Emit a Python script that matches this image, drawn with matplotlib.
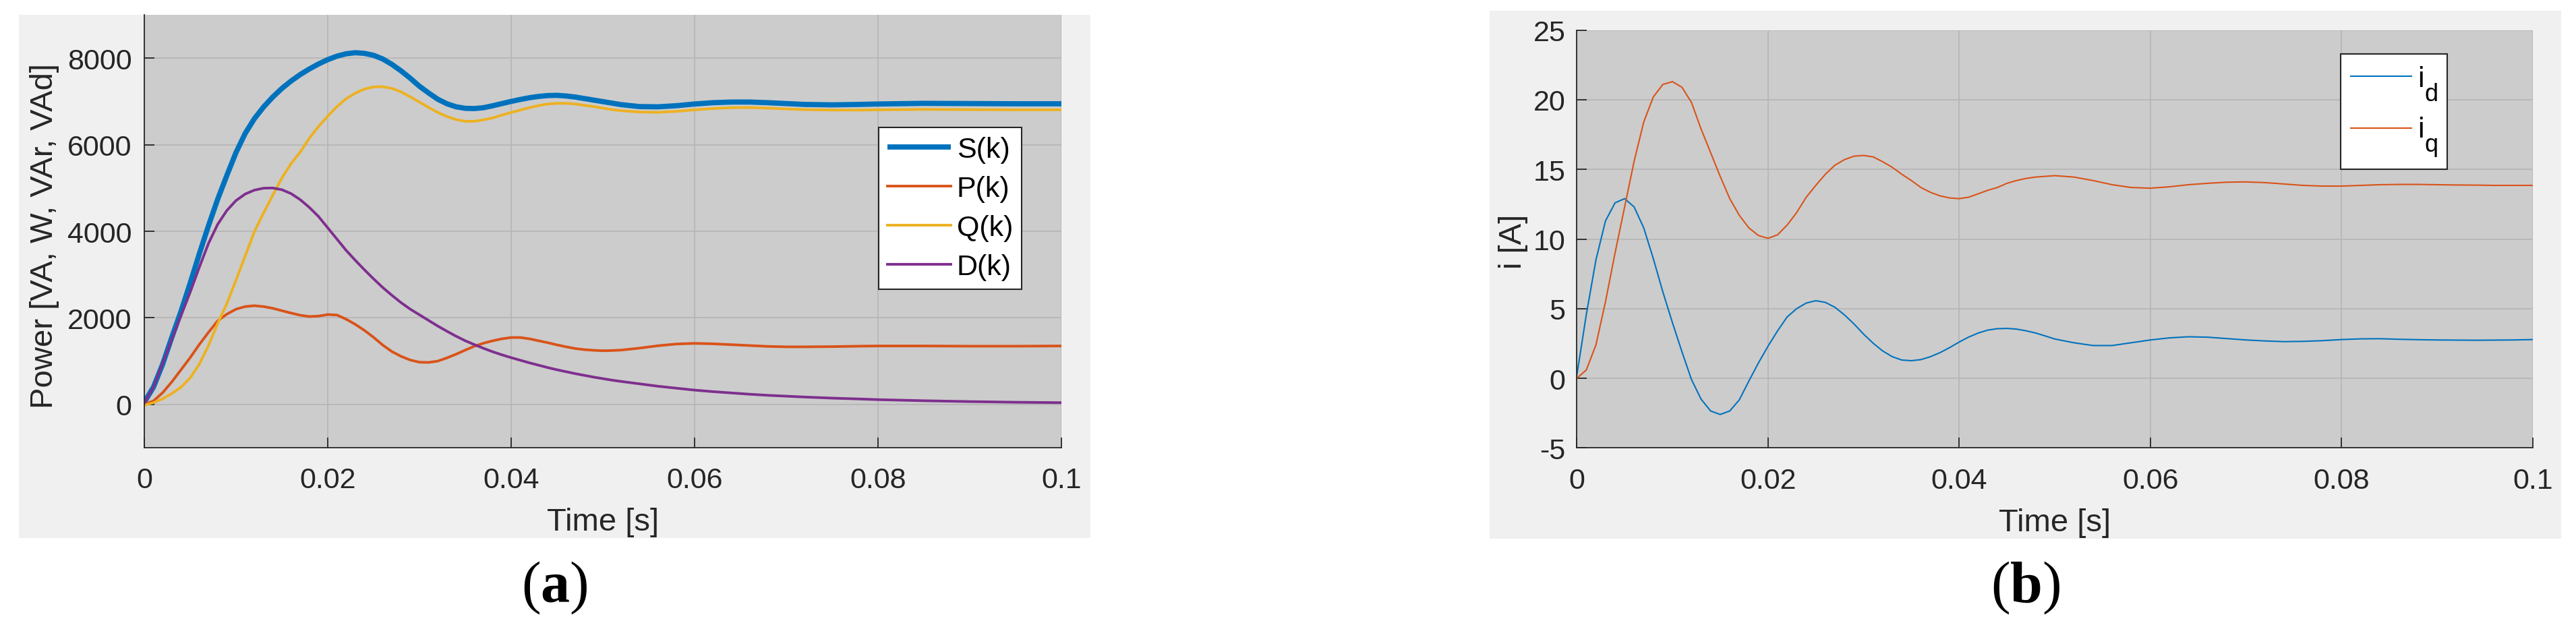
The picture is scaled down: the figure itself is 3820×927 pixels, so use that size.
import matplotlib
matplotlib.use("Agg")
import matplotlib.pyplot as plt
from matplotlib.patches import Rectangle

# MATLAB-like large, low subscripts for the i_d / i_q legend labels
try:
    import matplotlib._mathtext as _mt
    _mt.SHRINK_FACTOR = 0.84
    _mt.FontConstantsBase.sub1 = 0.95
except Exception:
    pass

plt.rcParams['font.family'] = ['Liberation Sans', 'DejaVu Sans']
plt.rcParams['axes.unicode_minus'] = False
plt.rcParams['mathtext.fontset'] = 'custom'
plt.rcParams['mathtext.rm'] = 'Liberation Serif'
plt.rcParams['mathtext.bf'] = 'Liberation Serif:bold'

# ---------------- data: panel (a) ----------------
t_a_ms = [0, 1, 2, 3, 4, 5, 6, 7, 8, 9, 10, 11, 12, 13, 14, 15, 16, 17, 18, 19,
          20, 21, 22, 23, 24, 25, 26, 27, 28, 29, 30, 31, 32, 33, 34, 35, 36, 37, 38, 39,
          40, 41, 42, 43, 44, 45, 46, 47, 48, 49, 50, 51,
          52, 54, 56, 58, 60, 62, 64, 66, 68, 70, 72, 75, 78, 80, 85, 90, 95, 100]
S_k = [50, 400, 930, 1550, 2150, 2800, 3480, 4130, 4740, 5290, 5820, 6260, 6600, 6870, 7100, 7300, 7470, 7620, 7750, 7865,
       7965, 8045, 8100, 8125, 8110, 8065, 7980, 7855, 7705, 7535, 7350, 7195, 7050, 6945, 6875, 6840, 6835, 6855, 6900, 6950,
       7000, 7045, 7085, 7115, 7135, 7140, 7125, 7100, 7065, 7030, 6995, 6960,
       6925, 6880, 6875, 6900, 6940, 6970, 6985, 6985, 6970, 6950, 6930, 6920, 6930, 6940, 6955, 6950, 6945, 6945]
P_k = [0, 80, 270, 520, 800, 1080, 1385, 1665, 1930, 2085, 2200, 2260, 2280, 2260, 2220, 2165, 2110, 2060, 2030, 2040,
       2075, 2065, 1970, 1850, 1710, 1550, 1370, 1220, 1110, 1025, 975, 970, 1000, 1075, 1160, 1255, 1345, 1415, 1470, 1515,
       1545, 1545, 1515, 1470, 1425, 1375, 1330, 1290, 1265, 1250, 1240, 1245,
       1255, 1300, 1355, 1395, 1410, 1400, 1380, 1360, 1340, 1330, 1330, 1335, 1345, 1350, 1350, 1345, 1345, 1350]
Q_k = [-20, 40, 130, 250, 400, 610, 930, 1360, 1870, 2330, 2870, 3430, 3990, 4420, 4830, 5230, 5560, 5830, 6150, 6420,
       6660, 6880, 7060, 7190, 7285, 7335, 7340, 7300, 7220, 7105, 6985, 6860, 6745, 6650, 6580, 6540, 6540, 6575, 6620, 6685,
       6745, 6800, 6855, 6905, 6940, 6955, 6955, 6940, 6910, 6880, 6845, 6810,
       6785, 6755, 6748, 6770, 6805, 6835, 6855, 6858, 6845, 6825, 6810, 6800, 6800, 6805, 6815, 6810, 6805, 6805]
D_k = [30, 400, 950, 1500, 2050, 2590, 3170, 3720, 4160, 4480, 4710, 4860, 4950, 4995, 5000, 4960, 4870, 4730, 4550, 4340,
       4080, 3820, 3560, 3330, 3110, 2900, 2700, 2520, 2350, 2200, 2070, 1940, 1810, 1690, 1575, 1470, 1380, 1295, 1215, 1145,
       1080, 1020, 960, 905, 850, 800, 755, 710, 670, 630, 595, 560,
       530, 475, 420, 375, 330, 295, 265, 235, 210, 190, 170, 145, 125, 110, 85, 65, 50, 40]

# ---------------- data: panel (b) ----------------
t_b_ms = [0, 1, 2, 3, 4, 5, 6, 7, 8, 9, 10, 11, 12, 13, 14, 15, 16, 17, 18, 19,
          20, 21, 22, 23, 24, 25, 26, 27, 28, 29, 30, 31, 32, 33, 34, 35, 36, 37, 38, 39,
          40, 41, 42, 43, 44, 45, 46, 47, 48, 49, 50,
          52, 54, 56, 58, 60, 62, 64, 66, 68, 70, 72, 74, 76, 78, 80, 82, 84, 86, 88, 90,
          92, 94, 96, 98, 100]
i_d = [0.2, 4.6, 8.5, 11.3, 12.6, 12.9, 12.3, 10.8, 8.6, 6.2, 4.0, 1.9, -0.1, -1.5, -2.35, -2.6, -2.35, -1.55, -0.2, 1.1,
       2.3, 3.4, 4.4, 5.0, 5.4, 5.57, 5.45, 5.1, 4.55, 3.9, 3.17, 2.52, 1.96, 1.55, 1.31, 1.26, 1.34, 1.55, 1.84, 2.2,
       2.6, 2.96, 3.25, 3.46, 3.56, 3.58, 3.53, 3.41, 3.25, 3.04, 2.82,
       2.55, 2.35, 2.35, 2.55, 2.75, 2.9, 2.98, 2.95, 2.85, 2.75, 2.68, 2.63, 2.65, 2.7, 2.78, 2.83, 2.84, 2.8, 2.77, 2.75,
       2.74, 2.73, 2.74, 2.75, 2.78]
i_q = [0.0, 0.6, 2.4, 5.5, 9.0, 12.3, 15.6, 18.4, 20.2, 21.1, 21.3, 20.9, 19.8, 17.9, 16.2, 14.5, 12.9, 11.7, 10.8, 10.25,
       10.05, 10.3, 11.0, 11.9, 13.0, 13.85, 14.65, 15.3, 15.7, 15.95, 16.0, 15.9, 15.55, 15.15, 14.65, 14.2, 13.7, 13.35, 13.1, 12.95,
       12.9, 13.0, 13.25, 13.5, 13.7, 14.0, 14.2, 14.35, 14.45, 14.5, 14.55,
       14.45, 14.2, 13.9, 13.7, 13.65, 13.75, 13.9, 14.0, 14.08, 14.1, 14.05, 13.95, 13.85, 13.8, 13.8, 13.85, 13.9, 13.92, 13.92, 13.9,
       13.88, 13.87, 13.85, 13.85, 13.85]

x_ticks = [0, 0.02, 0.04, 0.06, 0.08, 0.1]
x_tick_labels = ['0', '0.02', '0.04', '0.06', '0.08', '0.1']
y_ticks_a = [0, 2000, 4000, 6000, 8000]
y_ticks_b = [-5, 0, 5, 10, 15, 20, 25]
legend_a = ['S(k)', 'P(k)', 'Q(k)', 'D(k)']
legend_b = [r'$\mathregular{i_d}$', r'$\mathregular{i_q}$']

# MATLAB default colours
C_BLUE = '#0072BD'
C_ORANGE = '#D95319'
C_YELLOW = '#EDB120'
C_PURPLE = '#7E2F8E'
DARK = '#262626'

W, H = 3820, 928
fig = plt.figure(figsize=(W / 100, H / 100), dpi=100, facecolor='white')

# light-grey figure panels (MATLAB figure background)
for (x0, y0, x1, y1) in [(28, 23, 1617, 799), (2209, 17, 3798, 800)]:
    fig.add_artist(Rectangle((x0 / W, 1 - y1 / H), (x1 - x0) / W, (y1 - y0) / H,
                             transform=fig.transFigure, facecolor='#F0F0F0',
                             edgecolor='none', zorder=0))


def style_axes(ax, xpad, ypad):
    ax.set_facecolor('#CCCCCC')
    ax.set_axisbelow(True)
    ax.grid(True, color='#B3B3B3', linewidth=1.1)
    for s in ['top', 'right']:
        ax.spines[s].set_visible(False)
    for s in ['left', 'bottom']:
        ax.spines[s].set_color(DARK)
        ax.spines[s].set_linewidth(1.3)
    ax.tick_params(axis='both', direction='in', length=10.8, width=1.3,
                   colors=DARK, labelsize=31)
    ax.tick_params(axis='x', pad=xpad)
    ax.tick_params(axis='y', pad=ypad)
    ax.set_xlim(0, 0.1)
    ax.set_xticks(x_ticks)
    ax.set_xticklabels(x_tick_labels)


# ---------------- panel (a) ----------------
axA = fig.add_axes([214 / W, (H - 665) / H, 1360 / W, 642 / H])
style_axes(axA, 20, 13.5)
tA = [v / 1000 for v in t_a_ms]
axA.plot(tA, S_k, color=C_BLUE, lw=5.6, label=legend_a[0], solid_capstyle='butt')
axA.plot(tA, P_k, color=C_ORANGE, lw=2.8, label=legend_a[1])
axA.plot(tA, Q_k, color=C_YELLOW, lw=2.8, label=legend_a[2])
axA.plot(tA, D_k, color=C_PURPLE, lw=2.8, label=legend_a[3])
axA.set_ylim(-1000, 9000)
axA.set_yticks(y_ticks_a)
axA.set_xlabel('Time [s]', fontsize=34, color=DARK)
axA.set_ylabel('Power [VA, W, VAr, VAd]', fontsize=34, color=DARK)
axA.xaxis.set_label_coords(0.5, -0.137)
axA.yaxis.set_label_coords(-0.0926, 0.49)
legA = axA.legend(loc='upper right', bbox_to_anchor=(0.9568, 0.7404), borderaxespad=0,
                  fontsize=31, frameon=True, fancybox=False, framealpha=1,
                  edgecolor=DARK, handlelength=2.2, handletextpad=0.2,
                  labelspacing=0.42, borderpad=0.3)
legA.get_frame().set_linewidth(1.5)

# ---------------- panel (b) ----------------
axB = fig.add_axes([2338.3 / W, (H - 665.3) / H, 1417.4 / W, 619.6 / H])
style_axes(axB, 21, 12)
tB = [v / 1000 for v in t_b_ms]
axB.plot(tB, i_d, color=C_BLUE, lw=1.5, label=legend_b[0])
axB.plot(tB, i_q, color=C_ORANGE, lw=1.5, label=legend_b[1])
axB.set_ylim(-5, 25)
axB.set_yticks(y_ticks_b)
axB.set_xlabel('Time [s]', fontsize=34, color=DARK)
axB.set_ylabel('i [A]', fontsize=34, color=DARK)
axB.xaxis.set_label_coords(0.5, -0.143)
axB.yaxis.set_label_coords(-0.051, 0.495)
legB = axB.legend(loc='upper right', bbox_to_anchor=(0.9108, 0.9425), borderaxespad=0,
                  fontsize=31, frameon=True, fancybox=False, framealpha=1,
                  edgecolor=DARK, handlelength=2.1, handletextpad=0.2,
                  labelspacing=0.45, borderpad=0.34)
legB.get_frame().set_linewidth(1.5)

# ---------------- captions ----------------
fig.text(822 / W, 1 - 893 / H, r'$\mathrm{(}\mathbf{a}\mathrm{)}$', fontsize=62,
         ha='center', va='baseline', color='black')
fig.text(3004 / W, 1 - 893 / H, r'$\mathrm{(}\mathbf{b}\mathrm{)}$', fontsize=62,
         ha='center', va='baseline', color='black')

fig.savefig('out.png', dpi=100, facecolor='white')
